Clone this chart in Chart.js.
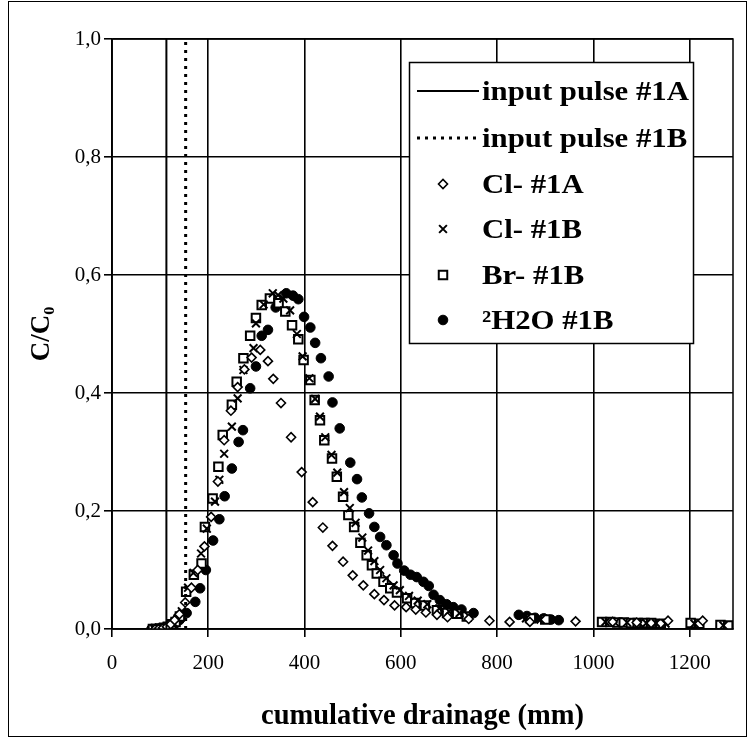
<!DOCTYPE html>
<html>
<head>
<meta charset="utf-8">
<script src="https://cdn.jsdelivr.net/npm/chart.js@4.4.1/dist/chart.umd.min.js"></script>
<style>
  body { margin: 0; background: #fff; }
</style>
</head>
<body>
<canvas id="breakthrough" width="750" height="740"></canvas>
<script>
// input pulses (vertical lines)
const pulseA = [[113, 0], [113, 1]];
const pulseB = [[153, 0], [153, 1]];

// Cl- #1A  (open diamonds)
const clA = [[90,0],[98,0.001],[106,0.002],[114,0.004],[122,0.008],[130,0.015],[140,0.025],[152,0.045],
  [165,0.07],[178,0.1],[192,0.14],[206,0.19],[220,0.25],[233,0.32],[247,0.37],[261,0.41],[275,0.44],
  [290,0.46],[308,0.473],[324,0.454],[335,0.424],[351,0.383],[372,0.325],[394,0.266],[417,0.215],
  [438,0.172],[458,0.141],[480,0.114],[500,0.091],[522,0.074],[545,0.059],[565,0.049],[587,0.04],
  [611,0.037],[631,0.033],[652,0.028],[675,0.024],[697,0.02],[741,0.017],[784,0.014],[826,0.012],
  [868,0.012],[963,0.013],[1040,0.012],[1090,0.011],[1155,0.014],[1227,0.014]];

// Cl- #1B  (crosses)
const clB = [[88,0],[96,0],[104,0.001],[112,0.003],[120,0.005],[128,0.01],[136,0.018],[145,0.03],
  [158,0.07],[169,0.095],[185,0.128],[197,0.17],[214,0.216],[223,0.253],[233,0.297],[249,0.343],
  [261,0.391],[273,0.439],[294,0.476],[299,0.518],[315,0.55],[334,0.569],[345,0.566],[356,0.56],
  [370,0.54],[384,0.5],[396,0.462],[410,0.425],[422,0.39],[432,0.36],[443,0.325],[456,0.295],
  [468,0.265],[482,0.232],[494,0.205],[506,0.18],[520,0.155],[532,0.133],[545,0.115],[557,0.1],
  [570,0.086],[585,0.074],[598,0.066],[617,0.056],[635,0.048],[655,0.042],[680,0.035],[700,0.03],
  [722,0.027],[740,0.023],[860,0.018],[890,0.016],[1025,0.012],[1045,0.011],[1070,0.011],[1095,0.01],
  [1110,0.01],[1130,0.01],[1150,0.009],[1210,0.009],[1270,0.006]];

// Br- #1B  (open squares)
const brB = [[85,0],[92,0],[100,0.001],[108,0.002],[116,0.004],[124,0.008],[132,0.012],[141,0.021],
  [154,0.063],[170,0.092],[186,0.111],[193,0.173],[209,0.221],[221,0.275],[230,0.329],[249,0.38],
  [259,0.419],[273,0.459],[287,0.497],[299,0.527],[311,0.549],[328,0.56],[346,0.552],[360,0.538],
  [374,0.515],[387,0.491],[398,0.456],[412,0.422],[421,0.388],[432,0.354],[441,0.32],[457,0.289],
  [467,0.258],[480,0.224],[491,0.193],[503,0.173],[516,0.146],[529,0.125],[540,0.108],[550,0.094],
  [564,0.08],[578,0.069],[592,0.062],[613,0.052],[630,0.044],[650,0.04],[675,0.032],[696,0.027],
  [717,0.026],[737,0.021],[870,0.018],[900,0.016],[1018,0.012],[1035,0.012],[1050,0.011],[1063,0.011],
  [1078,0.01],[1092,0.01],[1106,0.01],[1120,0.01],[1140,0.009],[1202,0.01],[1220,0.009],[1264,0.007],[1280,0.006]];

// 2H2O #1B  (filled circles)
const h2o = [[82,0],[90,0],[98,0],[106,0.001],[114,0.002],[122,0.004],[130,0.008],[140,0.015],
  [155,0.027],[173,0.046],[183,0.069],[195,0.1],[210,0.15],[223,0.186],[234,0.225],[249,0.272],
  [263,0.317],[272,0.337],[287,0.408],[299,0.445],[311,0.497],[324,0.507],[340,0.545],[362,0.569],
  [376,0.565],[387,0.559],[399,0.529],[412,0.511],[422,0.485],[434,0.459],[450,0.428],[458,0.384],
  [473,0.34],[495,0.282],[509,0.254],[519,0.223],[534,0.196],[545,0.173],[557,0.156],[570,0.142],
  [585,0.125],[593,0.111],[607,0.099],[620,0.092],[633,0.088],[647,0.08],[658,0.073],[668,0.058],
  [681,0.049],[695,0.042],[709,0.037],[726,0.033],[751,0.027],[845,0.024],[862,0.022],[879,0.019],
  [897,0.018],[912,0.016],[928,0.015]];

const xTicks = [0, 200, 400, 600, 800, 1000, 1200];

const toPts = arr => arr.map(p => ({ x: p[0], y: p[1] }));
const serif = 'Liberation Serif';

const frame = {
  id: 'frame',
  beforeDraw(chart) {
    const c = chart.ctx;
    c.save();
    c.fillStyle = '#fff';
    c.fillRect(0, 0, chart.width, chart.height);
    c.restore();
  },
  afterDraw(chart) {
    const c = chart.ctx, a = chart.chartArea;
    c.save();
    c.strokeStyle = '#000';
    c.lineWidth = 1.5;
    c.strokeRect(a.left, a.top, a.right - a.left, a.bottom - a.top);
    c.lineWidth = 1;
    c.strokeRect(8.5, 1.5, 738, 735);
    c.restore();
  }
};

// legend box drawn inside the plot
const legendBox = {
  id: 'legendBox',
  afterDatasetsDraw(chart) {
    const c = chart.ctx;
    const bx = 409, by = 62, bw = 284, bh = 281;
    const rows = [91, 138, 184, 229, 275, 320];
    c.save();
    c.fillStyle = '#fff';
    c.fillRect(bx, by, bw, bh);
    c.strokeStyle = '#000';
    c.lineWidth = 1.5;
    c.strokeRect(bx + 0.5, by + 0.5, bw, bh);
    c.font = 'bold 27px ' + serif;
    c.textBaseline = 'middle';
    chart.data.datasets.forEach((ds, i) => {
      const y = rows[i];
      if (ds.showLine) {
        c.beginPath();
        c.strokeStyle = '#000';
        c.lineWidth = ds.borderWidth;
        c.setLineDash(ds.borderDash || []);
        c.moveTo(417, y);
        c.lineTo(479, y);
        c.stroke();
        c.setLineDash([]);
      } else {
        c.fillStyle = ds.pointBackgroundColor;
        c.strokeStyle = '#000';
        c.lineWidth = ds.pointBorderWidth;
        Chart.helpers.drawPoint(c, {
          pointStyle: ds.pointStyle, radius: ds.pointRadius, rotation: 0,
          borderWidth: ds.pointBorderWidth
        }, 443, y);
      }
      // scanned original is a little wider than Times
      c.save();
      c.translate(482, y + 2);
      c.scale(1.14, 1);
      c.fillStyle = '#000';
      c.fillText(ds.label, 0, 0);
      c.restore();
    });
    c.restore();
  }
};

const ctx = document.getElementById('breakthrough').getContext('2d');

new Chart(ctx, {
  type: 'scatter',
  data: {
    datasets: [
      { label: 'input pulse #1A', data: toPts(pulseA), showLine: true, borderColor: '#000',
        borderWidth: 2, pointRadius: 0 },
      { label: 'input pulse #1B', data: toPts(pulseB), showLine: true, borderColor: '#000',
        borderWidth: 3, borderDash: [3, 5], pointRadius: 0 },
      { label: 'Cl- #1A', data: toPts(clA), pointStyle: 'rectRot', pointRadius: 4.5,
        pointBackgroundColor: '#fff', pointBorderColor: '#000', pointBorderWidth: 1.6 },
      { label: 'Cl- #1B', data: toPts(clB), pointStyle: 'crossRot', pointRadius: 5.5,
        pointBackgroundColor: '#000', pointBorderColor: '#000', pointBorderWidth: 2 },
      { label: 'Br- #1B', data: toPts(brB), pointStyle: 'rect', pointRadius: 6,
        pointBackgroundColor: '#fff', pointBorderColor: '#000', pointBorderWidth: 2 },
      { label: '\u00B2H2O #1B', data: toPts(h2o), pointStyle: 'circle', pointRadius: 4.8,
        pointBackgroundColor: '#000', pointBorderColor: '#000', pointBorderWidth: 1 }
    ]
  },
  options: {
    responsive: false,
    animation: false,
    devicePixelRatio: 1,
    layout: { padding: { left: 10, right: 17, top: 39, bottom: 0 } },
    plugins: {
      legend: { display: false },
      tooltip: { enabled: false }
    },
    scales: {
      x: {
        type: 'linear',
        min: 0,
        max: 1290,
        afterBuildTicks: s => { s.ticks = xTicks.map(v => ({ value: v })); },
        afterFit: s => { s.height = 111; },
        ticks: { color: '#000', padding: 14, maxRotation: 0, font: { family: serif, size: 21 },
          callback: v => String(v) },
        grid: { color: '#000', lineWidth: 1.6, tickLength: 8 },
        border: { color: '#000', width: 1.6 },
        title: { display: true, text: 'cumulative drainage (mm)', color: '#000',
          font: { family: serif, size: 28.5, weight: 'bold' }, padding: { top: 0, bottom: 6 } }
      },
      y: {
        min: 0,
        max: 1,
        afterFit: s => { s.width = 102; },
        ticks: { stepSize: 0.2, color: '#000', padding: 3,
          font: { family: serif, size: 21 },
          callback: v => v.toFixed(1).replace('.', ',') },
        grid: { color: '#000', lineWidth: 1.6, tickLength: 8 },
        border: { color: '#000', width: 1.6 },
        title: { display: true, text: 'C/C\u2080', color: '#000',
          font: { family: serif, size: 27, weight: 'bold' }, padding: { top: 16, bottom: 0 } }
      }
    }
  },
  plugins: [frame, legendBox]
});
</script>
</body>
</html>
